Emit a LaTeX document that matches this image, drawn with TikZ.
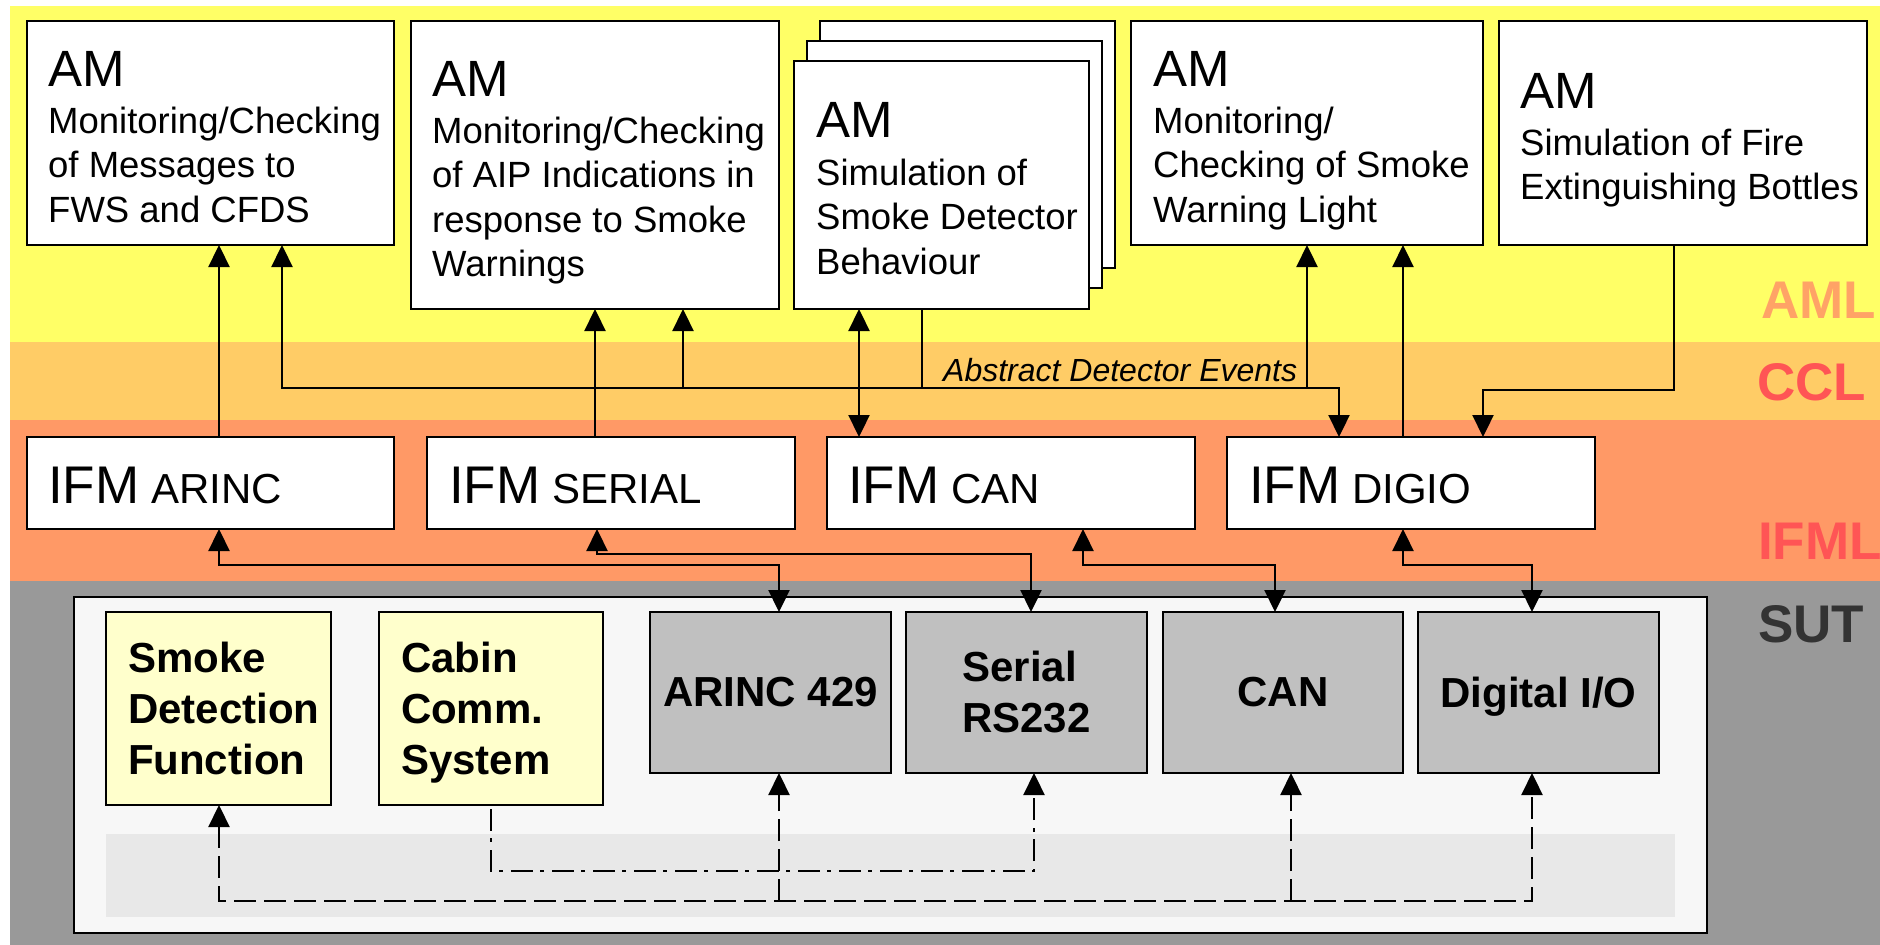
\documentclass[tikz,border=0pt]{standalone}
\usepackage{fontspec}
\setmainfont{Liberation Sans}
\usetikzlibrary{arrows.meta}
\definecolor{amlY}{HTML}{FFFF66}
\definecolor{cclO}{HTML}{FFCC66}
\definecolor{ifmlO}{HTML}{FF9966}
\definecolor{bandGray}{HTML}{999999}
\definecolor{panelW}{HTML}{F7F7F7}
\definecolor{stripG}{HTML}{E8E8E8}
\definecolor{boxGray}{HTML}{C0C0C0}
\definecolor{boxYel}{HTML}{FFFFCC}
\definecolor{lblAML}{HTML}{FFA366}
\definecolor{lblRed}{HTML}{FF5555}
\definecolor{lblSUT}{HTML}{333333}
\newcommand{\nodepth}[1]{\raisebox{0pt}[\height][0pt]{#1}}
\begin{document}
\begin{tikzpicture}[x=1pt,y=-1pt,
  >={Triangle[length=22pt,width=21pt]},
  ambox/.style={draw=black, line width=2pt, fill=white, anchor=north west, inner sep=0pt, outer sep=0pt},
  amtitle/.style={anchor=base west, inner sep=0pt, font=\fontsize{51}{51}\selectfont},
  ambody/.style={anchor=base west, inner sep=0pt, align=left, font=\fontsize{36.5}{44.5}\selectfont},
  ifmtext/.style={anchor=base west, inner sep=0pt, font=\fontsize{42}{42}\selectfont},
  layerlbl/.style={anchor=base west, inner sep=0pt, font=\fontsize{53}{53}\selectfont\bfseries},
  sutbox/.style={draw=black, line width=2pt, anchor=north west, outer sep=0pt, inner ysep=0pt,
     font=\fontsize{42}{51}\selectfont\bfseries},
  sutyel/.style={sutbox, fill=boxYel, minimum height=193pt, inner xsep=22pt, align=left},
  sutgray/.style={sutbox, fill=boxGray, minimum height=161pt, minimum width=241pt, inner xsep=0pt, align=left},
  conn/.style={line width=2.3pt},
  dashline/.style={line width=2.3pt, dash pattern=on 22pt off 8pt},
  dotdashline/.style={line width=2.3pt, dash pattern=on 22pt off 7pt on 4pt off 8pt}]
\useasboundingbox (0,0) rectangle (1880,945);
% layer bands
\fill[white] (0,0) rectangle (1880,945);
\fill[amlY] (10,6) rectangle (1880,342);
\fill[cclO] (10,342) rectangle (1880,420);
\fill[ifmlO] (10,420) rectangle (1880,581);
\fill[bandGray] (10,581) rectangle (1880,945);
% layer labels
\node[layerlbl, text=lblAML] (lAML) at (1761,318) {AML};
\node[layerlbl, text=lblRed] (lCCL) at (1757,400) {CCL};
\node[layerlbl, text=lblRed] (lIFML) at (1758,559) {IFML};
\node[layerlbl, text=lblSUT] (lSUT) at (1758,642) {SUT};
% AM boxes
\node[ambox, minimum width=367pt, minimum height=224pt] (b1) at (27,21) {};
\node[ambox, minimum width=368pt, minimum height=288pt] (b2) at (411,21) {};
\node[ambox, minimum width=295pt, minimum height=247pt] (b3c) at (820,21) {};
\node[ambox, minimum width=295pt, minimum height=247pt] (b3b) at (807,41) {};
\node[ambox, minimum width=295pt, minimum height=248pt] (b3) at (794,61) {};
\node[ambox, minimum width=352pt, minimum height=224pt] (b4) at (1131,21) {};
\node[ambox, minimum width=368pt, minimum height=224pt] (b5) at (1499,21) {};
% AM texts (body nodes anchored at the baseline of their last line)
\node[amtitle] (t1) at (48,86) {AM};
\node[ambody] (d1) at (48,222) {Monitoring/Checking\\of Messages to\\FWS and CFDS};
\node[amtitle] (t2) at (432,96) {AM};
\node[ambody] (d2) at (432,276.5) {Monitoring/Checking\\of AIP Indications in\\response to Smoke\\Warnings};
\node[amtitle] (t3) at (816,137) {AM};
\node[ambody] (d3) at (816,274) {Simulation of\\Smoke Detector\\Behaviour};
\node[amtitle] (t4) at (1153,86) {AM};
\node[ambody] (d4) at (1153,222) {Monitoring/\\Checking of Smoke\\Warning Light};
\node[amtitle] (t5) at (1520,108) {AM};
\node[ambody] (d5) at (1520,199.5) {Simulation of Fire\\Extinguishing Bottles};
% IFM boxes
\node[ambox, minimum width=367pt, minimum height=92pt] (ifmA) at (27,437) {};
\node[ambox, minimum width=368pt, minimum height=92pt] (ifmS) at (427,437) {};
\node[ambox, minimum width=368pt, minimum height=92pt] (ifmC) at (827,437) {};
\node[ambox, minimum width=368pt, minimum height=92pt] (ifmD) at (1227,437) {};
\node[ifmtext] (iA) at (48,503) {{\fontsize{53}{53}\selectfont IFM} ARINC};
\node[ifmtext] (iS) at (449,503) {{\fontsize{53}{53}\selectfont IFM} SERIAL};
\node[ifmtext] (iC) at (848,503) {{\fontsize{53}{53}\selectfont IFM} CAN};
\node[ifmtext] (iD) at (1249,503) {{\fontsize{53}{53}\selectfont IFM} DIGIO};
% SUT panel
\node[draw=black, line width=2pt, fill=panelW, anchor=north west, inner sep=0pt, outer sep=0pt,
      minimum width=1633pt, minimum height=336pt] (panel) at (74,597) {};
\node[fill=stripG, anchor=north west, inner sep=0pt, outer sep=0pt,
      minimum width=1569pt, minimum height=83pt] (strip) at (106,834) {};
\node[sutyel, text width=181pt] (smoke) at (106,612) {Smoke\\Detection\\Function};
\node[sutyel, text width=180pt] (cabin) at (379,612) {Cabin\\Comm.\\\nodepth{System}};
\node[sutgray] (arinc) at (650,612) {ARINC 429};
\node[sutgray] (serial) at (906,612) {Serial\\RS232};
\node[sutgray, minimum width=240pt] (can) at (1163,612) {CAN};
\node[sutgray] (dio) at (1418,612) {\nodepth{Digital I/O}};
% helper coordinates
\coordinate (colA) at (219,0);
\coordinate (colS) at (595,0);
\coordinate (colC) at (859,0);
\coordinate (colD) at (1403,0);
\coordinate (colE) at (1483,0);
\coordinate (busW) at (282,388);
\coordinate (busE) at (1339,388);
\coordinate (bus2) at (683,388);
\coordinate (bus3) at (922,388);
\coordinate (bus4) at (1307,388);
\coordinate (b5turn) at (1674,390);
\coordinate (arA) at (219,565);
\coordinate (arB) at (779,565);
\coordinate (seA) at (597,554);
\coordinate (seB) at (1031,554);
\coordinate (caA) at (1083,565);
\coordinate (caB) at (1275,565);
\coordinate (dgA) at (1403,565);
\coordinate (dgB) at (1532,565);
\coordinate (dsW) at (219,901);
\coordinate (dsE) at (1532,901);
\coordinate (dsA) at (779,901);
\coordinate (dsC) at (1291,901);
\coordinate (ddW) at (491,871);
\coordinate (ddE) at (1034,871);
% upper connectors
\draw[conn,->] (ifmA.north -| colA) -- (b1.south -| colA);
\draw[conn,<->] (b1.south -| busW) -- (busW) -- (busE) -- (ifmD.north -| busE);
\draw[conn,->] (bus2) -- (b2.south -| bus2);
\draw[conn] (b3.south -| bus3) -- (bus3);
\draw[conn,->] (bus4) -- (b4.south -| bus4);
\draw[conn,->] (ifmS.north -| colS) -- (b2.south -| colS);
\draw[conn,<->] (b3.south -| colC) -- (ifmC.north -| colC);
\draw[conn,->] (ifmD.north -| colD) -- (b4.south -| colD);
\draw[conn,->] (b5.south -| b5turn) -- (b5turn) -| (ifmD.north -| colE);
\node[anchor=base west, inner sep=0pt, font=\fontsize{32}{32}\selectfont\itshape] (ade) at (943,381) {Abstract Detector Events};
% lower connectors
\draw[conn,<->] (ifmA.south -| arA) -- (arA) -- (arB) -- (arinc.north -| arB);
\draw[conn,<->] (ifmS.south -| seA) -- (seA) -- (seB) -- (serial.north -| seB);
\draw[conn,<->] (ifmC.south -| caA) -- (caA) -- (caB) -- (can.north -| caB);
\draw[conn,<->] (ifmD.south -| dgA) -- (dgA) -- (dgB) -- (dio.north -| dgB);
% SUT internal connections
\draw[dashline,<->] (smoke.south -| dsW) -- (dsW) -- (dsE) -- (dio.south -| dsE);
\draw[dashline,->] (dsA) -- (arinc.south -| dsA);
\draw[dashline,->] (dsC) -- (can.south -| dsC);
\draw[dotdashline,->] ([yshift=-4pt]cabin.south -| ddW) -- (ddW) -- (ddE) -- (serial.south -| ddE);
\end{tikzpicture}
\end{document}
